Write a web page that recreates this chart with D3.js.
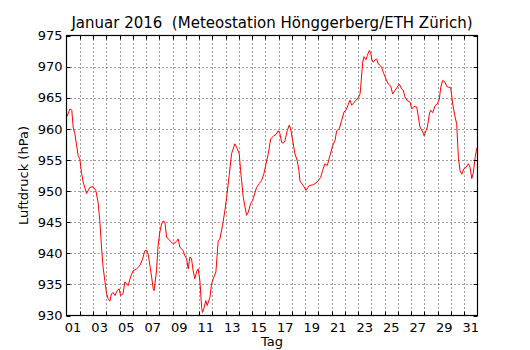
<!DOCTYPE html>
<html><head><meta charset="utf-8">
<script src="https://cdn.jsdelivr.net/npm/d3@7"></script>
<style>body{margin:0;background:#fff}svg{display:block}text{font-family:"DejaVu Sans",sans-serif;fill:#000;white-space:pre}</style>
</head><body><svg id="c" width="530" height="350"></svg>
<script>
const title = "Januar 2016  (Meteostation Hönggerberg/ETH Zürich)";
const yLabel = "Luftdruck (hPa)";
const xLabel = "Tag";
const yTicks = [930,935,940,945,950,955,960,965,970,975];
const dayLabels = ["01","03","05","07","09","11","13","15","17","19","21","23","25","27","29","31"];
// time in days since 1 Jan 00:00
const tage = [0.05,0.25,0.40,0.50,0.63,0.88,1.00,1.13,1.25,1.51,1.76,2.01,2.21,2.38,2.51,2.64,2.76,2.89,3.02,3.14,3.27,3.40,3.52,3.65,3.82,3.97,4.08,4.27,4.40,4.65,4.83,5.03,5.28,5.53,5.74,5.91,6.04,6.16,6.29,6.42,6.54,6.61,6.79,6.91,7.04,7.17,7.29,7.42,7.55,7.67,7.92,8.05,8.30,8.42,8.55,8.80,8.93,9.06,9.18,9.31,9.43,9.55,9.68,9.81,9.93,10.06,10.19,10.26,10.36,10.51,10.61,10.82,10.94,11.12,11.27,11.44,11.57,11.77,11.95,12.08,12.27,12.45,12.70,12.88,13.03,13.13,13.21,13.33,13.58,13.71,13.89,14.04,14.34,14.54,14.72,14.89,14.99,15.22,15.40,15.60,15.80,15.97,16.10,16.23,16.35,16.48,16.65,16.80,16.91,17.06,17.23,17.40,17.53,17.61,17.86,18.06,18.31,18.61,18.82,18.99,19.17,19.32,19.49,19.67,19.87,20.08,20.25,20.38,20.57,20.75,20.93,21.08,21.25,21.38,21.51,21.63,21.83,22.01,22.14,22.19,22.34,22.44,22.59,22.69,22.84,22.94,23.02,23.14,23.27,23.40,23.52,23.65,23.77,23.89,24.10,24.27,24.45,24.60,24.78,24.95,25.10,25.28,25.40,25.53,25.66,25.91,26.04,26.21,26.42,26.54,26.66,26.87,26.97,27.12,27.22,27.37,27.47,27.62,27.80,27.97,28.12,28.23,28.38,28.55,28.68,28.80,28.98,29.13,29.31,29.43,29.56,29.68,29.81,29.98,30.14,30.31,30.44,30.57,30.69,30.82,30.94,30.98];
const druck = [962.0,963.2,963.0,960.3,959.2,955.7,955.2,953.0,951.5,949.6,950.6,950.7,950.1,948.2,945.3,941.0,937.8,935.6,933.5,932.7,932.3,933.5,933.7,933.2,934.0,934.3,933.2,933.5,935.4,934.8,936.2,937.2,937.5,938.0,939.1,940.4,940.5,939.9,938.0,936.2,934.3,934.0,937.2,941.3,943.4,944.7,945.2,945.0,942.6,942.3,941.8,941.5,941.9,942.3,941.0,940.4,939.6,939.1,937.5,939.4,939.1,937.2,935.9,937.0,937.5,935.6,931.3,930.5,931.1,932.4,931.6,932.9,935.1,936.2,937.0,942.0,942.3,944.5,946.9,949.0,952.5,956.0,957.6,956.8,956.0,953.3,951.7,949.0,946.1,946.6,948.0,948.5,950.6,951.2,951.7,952.8,953.8,956.0,958.4,958.8,959.1,959.7,959.2,957.8,957.7,958.1,959.7,960.6,960.0,958.1,956.0,954.9,953.3,951.6,950.9,950.1,950.9,951.0,951.3,951.7,952.2,953.3,954.4,954.1,955.7,957.3,958.1,959.7,960.0,961.3,962.7,963.0,963.9,964.6,963.8,964.1,964.6,965.0,965.6,966.7,970.7,971.6,971.1,971.8,972.6,972.3,971.2,970.7,971.1,971.2,970.4,970.2,969.9,969.1,968.0,967.2,966.9,965.6,966.2,966.7,967.2,966.4,966.2,965.1,964.6,964.3,963.2,963.6,963.5,961.9,960.3,959.5,958.9,959.7,960.3,962.4,963.0,962.6,963.7,964.0,964.8,966.7,967.8,967.5,966.8,966.7,966.6,964.0,961.9,960.8,955.4,953.3,952.7,953.6,953.8,954.4,953.8,952.0,953.0,955.4,956.8,957.0];

const L=66.5,R=477.5,T=35.5,B=315.5;
const svg=d3.select("#c");
const x=d3.scaleLinear().domain([0,31]).range([L,R]);
const y=d3.scaleLinear().domain([930,975]).range([B,T]);
const days=d3.range(1,31);

// grid
const g=svg.append("g").attr("stroke","#000").attr("stroke-width",1).attr("stroke-dasharray","1,3").attr("opacity",0.75);
g.selectAll("line.v").data(days).join("line").attr("x1",d=>Math.round(x(d))+0.5).attr("x2",d=>Math.round(x(d))+0.5).attr("y1",T).attr("y2",B);
g.selectAll("line.h").data(yTicks.slice(1,-1)).join("line").attr("class","h").attr("y1",d=>Math.round(y(d))+0.5).attr("y2",d=>Math.round(y(d))+0.5).attr("x1",L).attr("x2",R);

// line
svg.append("path").datum(tage.map((t,i)=>[t,druck[i]]))
  .attr("fill","none").attr("stroke","#ff0000").attr("stroke-width",1)
  .attr("d",d3.line().x(d=>x(d[0])).y(d=>y(d[1])));

// ticks inward
const tk=svg.append("g").attr("stroke","#000").attr("stroke-width",1);
days.forEach(d=>{const xx=Math.round(x(d))+0.5;
  tk.append("line").attr("x1",xx).attr("x2",xx).attr("y1",B).attr("y2",B-4);
  tk.append("line").attr("x1",xx).attr("x2",xx).attr("y1",T).attr("y2",T+4);});
yTicks.forEach(v=>{const yy=Math.round(y(v))+0.5;
  tk.append("line").attr("x1",L).attr("x2",L+4).attr("y1",yy).attr("y2",yy);
  tk.append("line").attr("x1",R).attr("x2",R-4).attr("y1",yy).attr("y2",yy);});

// frame
svg.append("rect").attr("x",L).attr("y",T).attr("width",R-L).attr("height",B-T).attr("fill","none").attr("stroke","#000").attr("stroke-width",1.2);

// labels
svg.selectAll("text.yt").data(yTicks).join("text").attr("x",L-4).attr("y",d=>y(d)).attr("dy","0.36em").attr("text-anchor","end").attr("font-size",13).text(d=>d);
svg.selectAll("text.xt").data(dayLabels).join("text").attr("x",d=>x(+d-0.5)).attr("y",B+16).attr("text-anchor","middle").attr("font-size",13).text(d=>d);
svg.append("text").attr("x",(L+R)/2).attr("y",28).attr("text-anchor","middle").attr("font-size",15).text(title);
svg.append("text").attr("x",(L+R)/2).attr("y",346).attr("text-anchor","middle").attr("font-size",13).text(xLabel);
svg.append("text").attr("transform",`translate(28,${(T+B)/2}) rotate(-90)`).attr("text-anchor","middle").attr("font-size",13).text(yLabel);
</script></body></html>
